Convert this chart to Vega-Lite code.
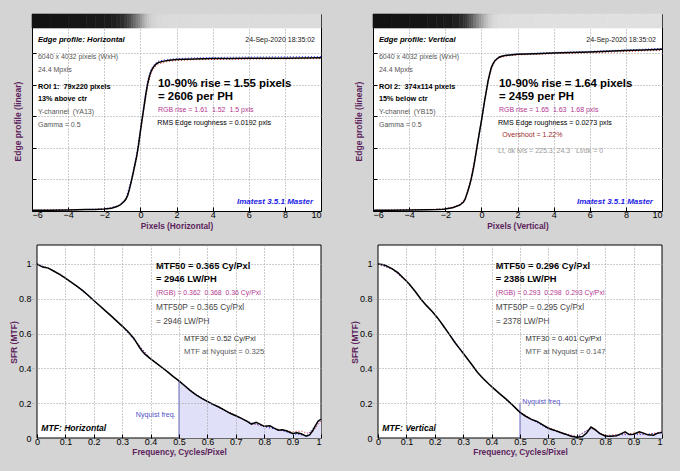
{
"$schema": "https://vega.github.io/schema/vega-lite/v6.json",
"background": "#d4d4d4",
"padding": {"left": 9, "top": 13, "right": 20, "bottom": 20},
"autosize": {"type": "pad"},
"columns": 2,
"spacing": {"row": 34, "column": 52},
"bounds": "flush",
"datasets": {
"tl_y": [{"x":-6,"y":0.004},{"x":-5,"y":0.005},{"x":-4,"y":0.007},{"x":-3,"y":0.009},{"x":-2.5,"y":0.01},{"x":-2,"y":0.012},{"x":-1.6,"y":0.018},{"x":-1.3,"y":0.028},{"x":-1.1,"y":0.04},{"x":-0.9,"y":0.06},{"x":-0.8,"y":0.076},{"x":-0.7,"y":0.1},{"x":-0.6,"y":0.14},{"x":-0.5,"y":0.19},{"x":-0.4,"y":0.24},{"x":-0.3,"y":0.295},{"x":-0.2,"y":0.35},{"x":-0.1,"y":0.42},{"x":0,"y":0.505},{"x":0.1,"y":0.585},{"x":0.2,"y":0.66},{"x":0.3,"y":0.74},{"x":0.4,"y":0.805},{"x":0.5,"y":0.855},{"x":0.6,"y":0.888},{"x":0.7,"y":0.91},{"x":0.85,"y":0.93},{"x":1,"y":0.942},{"x":1.3,"y":0.951},{"x":1.6,"y":0.957},{"x":2,"y":0.961},{"x":3,"y":0.965},{"x":4,"y":0.967},{"x":5,"y":0.968},{"x":6,"y":0.969},{"x":7,"y":0.97},{"x":8,"y":0.97},{"x":9,"y":0.971},{"x":10,"y":0.972}],
"tl_rb": [{"ch":"B","x":-6,"y":0.004},{"ch":"B","x":-2,"y":0.012},{"ch":"B","x":-1.2,"y":0.034},{"ch":"B","x":-0.8,"y":0.08},{"ch":"B","x":-0.5,"y":0.2},{"ch":"B","x":-0.2,"y":0.365},{"ch":"B","x":0,"y":0.52},{"ch":"B","x":0.2,"y":0.68},{"ch":"B","x":0.4,"y":0.825},{"ch":"B","x":0.6,"y":0.903},{"ch":"B","x":0.8,"y":0.935},{"ch":"B","x":1,"y":0.952},{"ch":"B","x":1.5,"y":0.962},{"ch":"B","x":2,"y":0.967},{"ch":"B","x":3,"y":0.972},{"ch":"B","x":5,"y":0.976},{"ch":"B","x":7,"y":0.978},{"ch":"B","x":10,"y":0.98},
{"ch":"R","x":-6,"y":0.004},{"ch":"R","x":-2,"y":0.011},{"ch":"R","x":-1.2,"y":0.03},{"ch":"R","x":-0.8,"y":0.07},{"ch":"R","x":-0.5,"y":0.182},{"ch":"R","x":-0.2,"y":0.34},{"ch":"R","x":0,"y":0.495},{"ch":"R","x":0.2,"y":0.65},{"ch":"R","x":0.4,"y":0.79},{"ch":"R","x":0.6,"y":0.878},{"ch":"R","x":0.8,"y":0.915},{"ch":"R","x":1,"y":0.932},{"ch":"R","x":1.5,"y":0.948},{"ch":"R","x":2,"y":0.955},{"ch":"R","x":3,"y":0.96},{"ch":"R","x":5,"y":0.963},{"ch":"R","x":7,"y":0.965},{"ch":"R","x":10,"y":0.967}],
"tr_y": [{"x":-6,"y":0.004},{"x":-5,"y":0.005},{"x":-4,"y":0.006},{"x":-3,"y":0.008},{"x":-2.5,"y":0.009},{"x":-2.1,"y":0.011},{"x":-1.6,"y":0.02},{"x":-1.2,"y":0.038},{"x":-1,"y":0.055},{"x":-0.9,"y":0.075},{"x":-0.75,"y":0.125},{"x":-0.65,"y":0.165},{"x":-0.55,"y":0.21},{"x":-0.45,"y":0.265},{"x":-0.37,"y":0.317},{"x":-0.28,"y":0.38},{"x":-0.19,"y":0.444},{"x":-0.1,"y":0.505},{"x":0,"y":0.571},{"x":0.09,"y":0.635},{"x":0.18,"y":0.7},{"x":0.28,"y":0.765},{"x":0.37,"y":0.825},{"x":0.46,"y":0.87},{"x":0.55,"y":0.91},{"x":0.65,"y":0.935},{"x":0.74,"y":0.952},{"x":0.87,"y":0.966},{"x":1,"y":0.977},{"x":1.3,"y":0.986},{"x":1.6,"y":0.99},{"x":2,"y":0.994},{"x":3,"y":0.998},{"x":4,"y":1.002},{"x":5,"y":1.005},{"x":6,"y":1.009},{"x":7,"y":1.013},{"x":8,"y":1.018},{"x":9,"y":1.022},{"x":10,"y":1.027}],
"tr_rb": [{"ch":"B","x":-6,"y":0.004},{"ch":"B","x":-2,"y":0.011},{"ch":"B","x":-1.2,"y":0.036},{"ch":"B","x":-0.9,"y":0.07},{"ch":"B","x":-0.6,"y":0.18},{"ch":"B","x":-0.3,"y":0.36},{"ch":"B","x":0,"y":0.56},{"ch":"B","x":0.2,"y":0.71},{"ch":"B","x":0.4,"y":0.84},{"ch":"B","x":0.6,"y":0.925},{"ch":"B","x":0.8,"y":0.962},{"ch":"B","x":1,"y":0.98},{"ch":"B","x":1.5,"y":0.992},{"ch":"B","x":2,"y":0.997},{"ch":"B","x":4,"y":1.006},{"ch":"B","x":6,"y":1.013},{"ch":"B","x":8,"y":1.022},{"ch":"B","x":10,"y":1.032},
{"ch":"R","x":-6,"y":0.004},{"ch":"R","x":-2,"y":0.012},{"ch":"R","x":-1.2,"y":0.04},{"ch":"R","x":-0.9,"y":0.08},{"ch":"R","x":-0.6,"y":0.19},{"ch":"R","x":-0.3,"y":0.375},{"ch":"R","x":0,"y":0.575},{"ch":"R","x":0.2,"y":0.715},{"ch":"R","x":0.4,"y":0.835},{"ch":"R","x":0.6,"y":0.918},{"ch":"R","x":0.8,"y":0.955},{"ch":"R","x":1,"y":0.973},{"ch":"R","x":1.5,"y":0.985},{"ch":"R","x":2,"y":0.99},{"ch":"R","x":4,"y":0.998},{"ch":"R","x":6,"y":1.004},{"ch":"R","x":8,"y":1.012},{"ch":"R","x":10,"y":1.02}],
"bl_y": [{"f":0,"m":1},{"f":0.01,"m":0.99},{"f":0.02,"m":0.982},{"f":0.03,"m":0.98},{"f":0.04,"m":0.976},{"f":0.06,"m":0.958},{"f":0.08,"m":0.94},{"f":0.1,"m":0.918},{"f":0.12,"m":0.896},{"f":0.14,"m":0.873},{"f":0.16,"m":0.848},{"f":0.18,"m":0.82},{"f":0.2,"m":0.79},{"f":0.22,"m":0.761},{"f":0.24,"m":0.732},{"f":0.26,"m":0.703},{"f":0.28,"m":0.673},{"f":0.3,"m":0.643},{"f":0.32,"m":0.612},{"f":0.34,"m":0.575},{"f":0.35,"m":0.55},{"f":0.36,"m":0.523},{"f":0.37,"m":0.5},{"f":0.38,"m":0.482},{"f":0.4,"m":0.455},{"f":0.42,"m":0.43},{"f":0.44,"m":0.405},{"f":0.46,"m":0.38},{"f":0.48,"m":0.353},{"f":0.5,"m":0.328},{"f":0.52,"m":0.3},{"f":0.54,"m":0.272},{"f":0.56,"m":0.248},{"f":0.58,"m":0.228},{"f":0.6,"m":0.21},{"f":0.62,"m":0.193},{"f":0.64,"m":0.178},{"f":0.66,"m":0.16},{"f":0.68,"m":0.142},{"f":0.7,"m":0.128},{"f":0.72,"m":0.113},{"f":0.74,"m":0.096},{"f":0.755,"m":0.08},{"f":0.772,"m":0.09},{"f":0.785,"m":0.08},{"f":0.8,"m":0.067},{"f":0.82,"m":0.07},{"f":0.835,"m":0.057},{"f":0.85,"m":0.045},{"f":0.865,"m":0.047},{"f":0.88,"m":0.04},{"f":0.9,"m":0.026},{"f":0.915,"m":0.03},{"f":0.93,"m":0.024},{"f":0.948,"m":0.011},{"f":0.96,"m":0.018},{"f":0.97,"m":0.04},{"f":0.98,"m":0.07},{"f":0.99,"m":0.098},{"f":1,"m":0.107}],
"bl_rb": [{"ch":"R","f":0,"m":1},{"ch":"R","f":0.05,"m":0.967},{"ch":"R","f":0.1,"m":0.917},{"ch":"R","f":0.15,"m":0.861},{"ch":"R","f":0.2,"m":0.79},{"ch":"R","f":0.25,"m":0.718},{"ch":"R","f":0.3,"m":0.643},{"ch":"R","f":0.35,"m":0.552},{"ch":"R","f":0.4,"m":0.455},{"ch":"R","f":0.45,"m":0.393},{"ch":"R","f":0.5,"m":0.326},{"ch":"R","f":0.55,"m":0.26},{"ch":"R","f":0.6,"m":0.21},{"ch":"R","f":0.65,"m":0.17},{"ch":"R","f":0.7,"m":0.13},{"ch":"R","f":0.75,"m":0.085},{"ch":"R","f":0.8,"m":0.07},{"ch":"R","f":0.85,"m":0.05},{"ch":"R","f":0.9,"m":0.035},{"ch":"R","f":0.93,"m":0.04},{"ch":"R","f":0.95,"m":0.028},{"ch":"R","f":0.97,"m":0.035},{"ch":"R","f":1,"m":0.1},
{"ch":"B","f":0,"m":1},{"ch":"B","f":0.05,"m":0.969},{"ch":"B","f":0.1,"m":0.919},{"ch":"B","f":0.15,"m":0.859},{"ch":"B","f":0.2,"m":0.788},{"ch":"B","f":0.25,"m":0.716},{"ch":"B","f":0.3,"m":0.641},{"ch":"B","f":0.35,"m":0.548},{"ch":"B","f":0.4,"m":0.454},{"ch":"B","f":0.45,"m":0.391},{"ch":"B","f":0.5,"m":0.33},{"ch":"B","f":0.55,"m":0.262},{"ch":"B","f":0.6,"m":0.208},{"ch":"B","f":0.65,"m":0.168},{"ch":"B","f":0.7,"m":0.127},{"ch":"B","f":0.75,"m":0.09},{"ch":"B","f":0.8,"m":0.064},{"ch":"B","f":0.85,"m":0.048},{"ch":"B","f":0.9,"m":0.024},{"ch":"B","f":0.95,"m":0.014},{"ch":"B","f":1,"m":0.11}],
"bl_nyq": [{"f":0.5,"m":0.328}],
"br_y": [{"f":0,"m":1},{"f":0.02,"m":0.995},{"f":0.035,"m":0.985},{"f":0.05,"m":0.972},{"f":0.07,"m":0.95},{"f":0.09,"m":0.918},{"f":0.11,"m":0.885},{"f":0.13,"m":0.845},{"f":0.15,"m":0.8},{"f":0.17,"m":0.762},{"f":0.19,"m":0.728},{"f":0.21,"m":0.69},{"f":0.23,"m":0.645},{"f":0.25,"m":0.598},{"f":0.27,"m":0.55},{"f":0.29,"m":0.508},{"f":0.31,"m":0.465},{"f":0.33,"m":0.422},{"f":0.35,"m":0.378},{"f":0.37,"m":0.342},{"f":0.39,"m":0.31},{"f":0.41,"m":0.281},{"f":0.43,"m":0.252},{"f":0.45,"m":0.225},{"f":0.47,"m":0.195},{"f":0.49,"m":0.163},{"f":0.5,"m":0.147},{"f":0.52,"m":0.125},{"f":0.54,"m":0.107},{"f":0.56,"m":0.095},{"f":0.58,"m":0.075},{"f":0.6,"m":0.056},{"f":0.62,"m":0.045},{"f":0.64,"m":0.033},{"f":0.66,"m":0.022},{"f":0.68,"m":0.01},{"f":0.7,"m":0.004},{"f":0.72,"m":0.008},{"f":0.735,"m":0.03},{"f":0.75,"m":0.063},{"f":0.765,"m":0.048},{"f":0.78,"m":0.026},{"f":0.8,"m":0.012},{"f":0.82,"m":0.01},{"f":0.84,"m":0.013},{"f":0.855,"m":0.024},{"f":0.87,"m":0.035},{"f":0.885,"m":0.02},{"f":0.9,"m":0.022},{"f":0.92,"m":0.036},{"f":0.935,"m":0.028},{"f":0.95,"m":0.018},{"f":0.97,"m":0.016},{"f":0.985,"m":0.028},{"f":1,"m":0.032}],
"br_rb": [{"ch":"R","f":0,"m":1},{"ch":"R","f":0.05,"m":0.97},{"ch":"R","f":0.1,"m":0.9},{"ch":"R","f":0.15,"m":0.8},{"ch":"R","f":0.2,"m":0.71},{"ch":"R","f":0.25,"m":0.595},{"ch":"R","f":0.3,"m":0.485},{"ch":"R","f":0.35,"m":0.38},{"ch":"R","f":0.4,"m":0.295},{"ch":"R","f":0.45,"m":0.228},{"ch":"R","f":0.5,"m":0.15},{"ch":"R","f":0.55,"m":0.1},{"ch":"R","f":0.6,"m":0.06},{"ch":"R","f":0.65,"m":0.03},{"ch":"R","f":0.7,"m":0.008},{"ch":"R","f":0.75,"m":0.055},{"ch":"R","f":0.8,"m":0.015},{"ch":"R","f":0.85,"m":0.02},{"ch":"R","f":0.9,"m":0.028},{"ch":"R","f":0.95,"m":0.02},{"ch":"R","f":1,"m":0.036},
{"ch":"B","f":0,"m":1},{"ch":"B","f":0.05,"m":0.972},{"ch":"B","f":0.1,"m":0.902},{"ch":"B","f":0.15,"m":0.802},{"ch":"B","f":0.2,"m":0.708},{"ch":"B","f":0.25,"m":0.6},{"ch":"B","f":0.3,"m":0.49},{"ch":"B","f":0.35,"m":0.376},{"ch":"B","f":0.4,"m":0.297},{"ch":"B","f":0.45,"m":0.222},{"ch":"B","f":0.5,"m":0.145},{"ch":"B","f":0.55,"m":0.098},{"ch":"B","f":0.6,"m":0.052},{"ch":"B","f":0.65,"m":0.026},{"ch":"B","f":0.7,"m":0.006},{"ch":"B","f":0.75,"m":0.06},{"ch":"B","f":0.8,"m":0.01},{"ch":"B","f":0.85,"m":0.018},{"ch":"B","f":0.9,"m":0.02},{"ch":"B","f":0.95,"m":0.022},{"ch":"B","f":1,"m":0.03}],
"br_nyq": [{"f":0.5,"m":0.201}]
},
"concat": [
{
"width": 289, "height": 197,
"layer": [
{"data": {"name": "tl_y"},
 "transform": [{"window": [{"op": "lead", "field": "x", "as": "xn"}], "sort": [{"field": "x", "order": "ascending"}]}, {"filter": "datum.xn != null"}],
 "mark": {"type": "rect", "strokeWidth": 0.6, "y": 0, "y2": 14},
 "encoding": {
  "x": {"field": "x", "type": "quantitative", "scale": {"domain": [-6, 10], "nice": false, "zero": false}, "axis": {"orient": "bottom", "values": [-6,-4,-2,0,2,4,6,8,10], "format": "~g", "tickCount": 30, "labelOverlap": false, "grid": true, "gridOpacity": {"condition": {"test": "datum.value == -6 || datum.value == 10", "value": 0}, "value": 1}, "tickSize": -4, "labelPadding": 3.5, "title": "Pixels (Horizontal)", "titlePadding": 2, "zindex": 0}},
  "x2": {"field": "xn"},
  "fill": {"field": "y", "type": "quantitative", "scale": {"type": "pow", "exponent": 0.5, "domain": [0, 1], "range": ["#000000", "#e0e0e0"], "clamp": true}, "legend": null},
  "stroke": {"field": "y", "type": "quantitative", "scale": {"type": "pow", "exponent": 0.5, "domain": [0, 1], "range": ["#000000", "#e0e0e0"], "clamp": true}, "legend": null}
 }},
 {"data": {"name": "tl_rb"}, "mark": {"type": "line", "strokeWidth": 1, "strokeDash": [1, 2]},
  "encoding": {
   "x": {"field": "x", "type": "quantitative", "scale": {"domain": [-6, 10], "nice": false, "zero": false}, "axis": {"orient": "bottom", "values": [-6,-4,-2,0,2,4,6,8,10], "format": "~g", "tickCount": 30, "labelOverlap": false, "grid": true, "gridOpacity": {"condition": {"test": "datum.value == -6 || datum.value == 10", "value": 0}, "value": 1}, "tickSize": -4, "labelPadding": 3.5, "title": "Pixels (Horizontal)", "titlePadding": 2, "zindex": 0}},
   "y": {"field": "y", "type": "quantitative", "scale": {"domain": [0, 1.25], "nice": false, "zero": false}, "axis": {"orient": "left", "values": [0.2,0.4,0.6,0.8,1], "tickCount": 30, "labelOverlap": false, "grid": true, "tickSize": -4, "labels": false, "title": "Edge profile (linear)", "titleFontSize": 8.5, "titleX": -15, "titleY": 107, "titleBaseline": "middle", "titleAlign": "center", "zindex": 0}},
   "color": {"field": "ch", "type": "nominal", "scale": {"domain": ["R", "B"], "range": ["#e02020", "#2a2aff"]}, "legend": null}
  }},
 {"data": {"name": "tl_y"}, "mark": {"type": "line", "color": "#000000", "strokeWidth": 1.5}, "encoding": {"x": {"field": "x", "type": "quantitative"}, "y": {"field": "y", "type": "quantitative"}}},
 {"data": {"values": [{"x": -5.67, "y": 1.085, "t": "Edge profile: Horizontal"}]}, "mark": {"type": "text", "align": "left", "baseline": "middle", "fontSize": 7.7, "fontWeight": "bold", "fontStyle": "italic", "color": "#000000"}, "encoding": {"x": {"field": "x", "type": "quantitative"}, "y": {"field": "y", "type": "quantitative"}, "text": {"field": "t", "type": "nominal"}}},
 {"data": {"values": [{"x": 9.668, "y": 1.085, "t": "24-Sep-2020 18:35:02"}]}, "mark": {"type": "text", "align": "right", "baseline": "middle", "fontSize": 7, "color": "#202020"}, "encoding": {"x": {"field": "x", "type": "quantitative"}, "y": {"field": "y", "type": "quantitative"}, "text": {"field": "t", "type": "nominal"}}},
 {"data": {"values": [{"x": -5.67, "y": 0.977, "t": "6040 x 4032 pixels (WxH)"}, {"x": -5.67, "y": 0.895, "t": "24.4 Mpxls"}, {"x": -5.67, "y": 0.628, "t": "Y-channel \u00a0(YA13)"}, {"x": -5.67, "y": 0.546, "t": "Gamma = 0.5"}]}, "mark": {"type": "text", "align": "left", "baseline": "middle", "fontSize": 7, "color": "#555555"}, "encoding": {"x": {"field": "x", "type": "quantitative"}, "y": {"field": "y", "type": "quantitative"}, "text": {"field": "t", "type": "nominal"}}},
 {"data": {"values": [{"x": -5.67, "y": 0.789, "t": "ROI 1: \u00a079x220 pixels"}, {"x": -5.67, "y": 0.713, "t": "13% above ctr"}]}, "mark": {"type": "text", "align": "left", "baseline": "middle", "fontSize": 7.3, "fontWeight": "bold", "color": "#000000"}, "encoding": {"x": {"field": "x", "type": "quantitative"}, "y": {"field": "y", "type": "quantitative"}, "text": {"field": "t", "type": "nominal"}}},
 {"data": {"values": [{"x": 0.976, "y": 0.808, "t": "10-90% rise = 1.55 pixels"}, {"x": 0.976, "y": 0.725, "t": "= 2606 per PH"}]}, "mark": {"type": "text", "align": "left", "baseline": "middle", "fontSize": 11.4, "fontWeight": "bold", "color": "#000000"}, "encoding": {"x": {"field": "x", "type": "quantitative"}, "y": {"field": "y", "type": "quantitative"}, "text": {"field": "t", "type": "nominal"}}},
 {"data": {"values": [{"x": 0.976, "y": 0.643, "t": "RGB rise = 1.61 \u00a01.52 \u00a01.5 pxls"}]}, "mark": {"type": "text", "align": "left", "baseline": "middle", "fontSize": 7, "color": "#b4368f"}, "encoding": {"x": {"field": "x", "type": "quantitative"}, "y": {"field": "y", "type": "quantitative"}, "text": {"field": "t", "type": "nominal"}}},
 {"data": {"values": [{"x": 0.94, "y": 0.56, "t": "RMS Edge roughness = 0.0192 pxls"}]}, "mark": {"type": "text", "align": "left", "baseline": "middle", "fontSize": 7.1, "color": "#000000"}, "encoding": {"x": {"field": "x", "type": "quantitative"}, "y": {"field": "y", "type": "quantitative"}, "text": {"field": "t", "type": "nominal"}}},
 {"data": {"values": [{"x": 9.557, "y": 0.057, "t": "Imatest 3.5.1 Master"}]}, "mark": {"type": "text", "align": "right", "baseline": "middle", "fontSize": 8, "fontWeight": "bold", "fontStyle": "italic", "color": "#1a1ae6"}, "encoding": {"x": {"field": "x", "type": "quantitative"}, "y": {"field": "y", "type": "quantitative"}, "text": {"field": "t", "type": "nominal"}}}
]
},
{
"width": 289, "height": 197,
"layer": [
{"data": {"name": "tr_y"},
 "transform": [{"window": [{"op": "lead", "field": "x", "as": "xn"}], "sort": [{"field": "x", "order": "ascending"}]}, {"filter": "datum.xn != null"}],
 "mark": {"type": "rect", "strokeWidth": 0.6, "y": 0, "y2": 14},
 "encoding": {
  "x": {"field": "x", "type": "quantitative", "scale": {"domain": [-6, 10], "nice": false, "zero": false}, "axis": {"orient": "bottom", "values": [-6,-4,-2,0,2,4,6,8,10], "format": "~g", "tickCount": 30, "labelOverlap": false, "grid": true, "gridOpacity": {"condition": {"test": "datum.value == -6 || datum.value == 10", "value": 0}, "value": 1}, "tickSize": -4, "labelPadding": 3.5, "title": "Pixels (Vertical)", "titlePadding": 2, "zindex": 0}},
  "x2": {"field": "xn"},
  "fill": {"field": "y", "type": "quantitative", "scale": {"type": "pow", "exponent": 0.5, "domain": [0, 1], "range": ["#000000", "#e0e0e0"], "clamp": true}, "legend": null},
  "stroke": {"field": "y", "type": "quantitative", "scale": {"type": "pow", "exponent": 0.5, "domain": [0, 1], "range": ["#000000", "#e0e0e0"], "clamp": true}, "legend": null}
 }},
 {"data": {"name": "tr_rb"}, "mark": {"type": "line", "strokeWidth": 1, "strokeDash": [1, 2]},
  "encoding": {
   "x": {"field": "x", "type": "quantitative", "scale": {"domain": [-6, 10], "nice": false, "zero": false}, "axis": {"orient": "bottom", "values": [-6,-4,-2,0,2,4,6,8,10], "format": "~g", "tickCount": 30, "labelOverlap": false, "grid": true, "gridOpacity": {"condition": {"test": "datum.value == -6 || datum.value == 10", "value": 0}, "value": 1}, "tickSize": -4, "labelPadding": 3.5, "title": "Pixels (Vertical)", "titlePadding": 2, "zindex": 0}},
   "y": {"field": "y", "type": "quantitative", "scale": {"domain": [0, 1.25], "nice": false, "zero": false}, "axis": {"orient": "left", "values": [0.2,0.4,0.6,0.8,1], "tickCount": 30, "labelOverlap": false, "grid": true, "tickSize": -4, "labels": false, "title": "Edge profile (linear)", "titleFontSize": 8.5, "titleX": -15, "titleY": 107, "titleBaseline": "middle", "titleAlign": "center", "zindex": 0}},
   "color": {"field": "ch", "type": "nominal", "scale": {"domain": ["R", "B"], "range": ["#e02020", "#2a2aff"]}, "legend": null}
  }},
 {"data": {"name": "tr_y"}, "mark": {"type": "line", "color": "#000000", "strokeWidth": 1.5}, "encoding": {"x": {"field": "x", "type": "quantitative"}, "y": {"field": "y", "type": "quantitative"}}},
 {"data": {"values": [{"x": -5.67, "y": 1.085, "t": "Edge profile: Vertical"}]}, "mark": {"type": "text", "align": "left", "baseline": "middle", "fontSize": 7.7, "fontWeight": "bold", "fontStyle": "italic", "color": "#000000"}, "encoding": {"x": {"field": "x", "type": "quantitative"}, "y": {"field": "y", "type": "quantitative"}, "text": {"field": "t", "type": "nominal"}}},
 {"data": {"values": [{"x": 9.668, "y": 1.085, "t": "24-Sep-2020 18:35:02"}]}, "mark": {"type": "text", "align": "right", "baseline": "middle", "fontSize": 7, "color": "#202020"}, "encoding": {"x": {"field": "x", "type": "quantitative"}, "y": {"field": "y", "type": "quantitative"}, "text": {"field": "t", "type": "nominal"}}},
 {"data": {"values": [{"x": -5.67, "y": 0.977, "t": "6040 x 4032 pixels (WxH)"}, {"x": -5.67, "y": 0.895, "t": "24.4 Mpxls"}, {"x": -5.67, "y": 0.628, "t": "Y-channel \u00a0(YB15)"}, {"x": -5.67, "y": 0.546, "t": "Gamma = 0.5"}]}, "mark": {"type": "text", "align": "left", "baseline": "middle", "fontSize": 7, "color": "#555555"}, "encoding": {"x": {"field": "x", "type": "quantitative"}, "y": {"field": "y", "type": "quantitative"}, "text": {"field": "t", "type": "nominal"}}},
 {"data": {"values": [{"x": -5.67, "y": 0.789, "t": "ROI 2: \u00a0374x114 pixels"}, {"x": -5.67, "y": 0.713, "t": "15% below ctr"}]}, "mark": {"type": "text", "align": "left", "baseline": "middle", "fontSize": 7.3, "fontWeight": "bold", "color": "#000000"}, "encoding": {"x": {"field": "x", "type": "quantitative"}, "y": {"field": "y", "type": "quantitative"}, "text": {"field": "t", "type": "nominal"}}},
 {"data": {"values": [{"x": 0.976, "y": 0.808, "t": "10-90% rise = 1.64 pixels"}, {"x": 0.976, "y": 0.725, "t": "= 2459 per PH"}]}, "mark": {"type": "text", "align": "left", "baseline": "middle", "fontSize": 11.4, "fontWeight": "bold", "color": "#000000"}, "encoding": {"x": {"field": "x", "type": "quantitative"}, "y": {"field": "y", "type": "quantitative"}, "text": {"field": "t", "type": "nominal"}}},
 {"data": {"values": [{"x": 0.976, "y": 0.643, "t": "RGB rise = 1.65 \u00a01.63 \u00a01.68 pxls"}]}, "mark": {"type": "text", "align": "left", "baseline": "middle", "fontSize": 7, "color": "#b4368f"}, "encoding": {"x": {"field": "x", "type": "quantitative"}, "y": {"field": "y", "type": "quantitative"}, "text": {"field": "t", "type": "nominal"}}},
 {"data": {"values": [{"x": 0.92, "y": 0.56, "t": "RMS Edge roughness = 0.0273 pxls"}]}, "mark": {"type": "text", "align": "left", "baseline": "middle", "fontSize": 7.1, "color": "#000000"}, "encoding": {"x": {"field": "x", "type": "quantitative"}, "y": {"field": "y", "type": "quantitative"}, "text": {"field": "t", "type": "nominal"}}},
 {"data": {"values": [{"x": 1.16, "y": 0.48, "t": "Overshoot = 1.22%"}]}, "mark": {"type": "text", "align": "left", "baseline": "middle", "fontSize": 7, "color": "#9c2a2a"}, "encoding": {"x": {"field": "x", "type": "quantitative"}, "y": {"field": "y", "type": "quantitative"}, "text": {"field": "t", "type": "nominal"}}},
 {"data": {"values": [{"x": 0.92, "y": 0.381, "t": "Lt, dk lvls = 225.3, 24.3 \u00a0 Lt/dk = 0"}]}, "mark": {"type": "text", "align": "left", "baseline": "middle", "fontSize": 7, "color": "#9a9a9a"}, "encoding": {"x": {"field": "x", "type": "quantitative"}, "y": {"field": "y", "type": "quantitative"}, "text": {"field": "t", "type": "nominal"}}},
 {"data": {"values": [{"x": 9.5, "y": 0.057, "t": "Imatest 3.5.1 Master"}]}, "mark": {"type": "text", "align": "right", "baseline": "middle", "fontSize": 8, "fontWeight": "bold", "fontStyle": "italic", "color": "#1a1ae6"}, "encoding": {"x": {"field": "x", "type": "quantitative"}, "y": {"field": "y", "type": "quantitative"}, "text": {"field": "t", "type": "nominal"}}}
]
},
{
"width": 289, "height": 193,
"view": {"fill": null, "stroke": null},
"layer": [
 {"data": {"name": "bl_y"}, "transform": [{"aggregate": [{"op": "min", "field": "f", "as": "f0"}, {"op": "max", "field": "f", "as": "f1"}]}],
  "mark": {"type": "rect", "fill": "#ffffff", "stroke": "#000000", "strokeWidth": 1, "y": 0, "y2": 193},
  "encoding": {
   "x": {"field": "f0", "type": "quantitative", "scale": {"domain": [-0.017606, 1], "nice": false, "zero": false}, "axis": {"orient": "bottom", "values": [0,0.1,0.2,0.3,0.4,0.5,0.6,0.7,0.8,0.9,1], "tickCount": 30, "labelOverlap": false, "format": "~g", "grid": true, "gridOpacity": {"condition": {"test": "datum.value == 0 || datum.value == 1", "value": 0}, "value": 1}, "tickSize": -4, "labelPadding": 3, "title": "Frequency, Cycles/Pixel", "titlePadding": 1.5, "titleX": 147, "zindex": 1}},
   "x2": {"field": "f1"}
  }},
 {"data": {"name": "bl_y"}, "transform": [{"filter": "datum.f >= 0.5"}], "mark": {"type": "area", "color": "#e0e0f8"},
  "encoding": {
   "x": {"field": "f", "type": "quantitative", "axis": {"orient": "bottom", "values": [0,0.1,0.2,0.3,0.4,0.5,0.6,0.7,0.8,0.9,1], "tickCount": 30, "labelOverlap": false, "format": "~g", "grid": true, "gridOpacity": {"condition": {"test": "datum.value == 0 || datum.value == 1", "value": 0}, "value": 1}, "tickSize": -4, "labelPadding": 3, "title": "Frequency, Cycles/Pixel", "titlePadding": 1.5, "titleX": 147, "zindex": 1}},
   "y": {"field": "m", "type": "quantitative", "scale": {"domain": [0, 1.109], "nice": false, "zero": false}, "axis": {"orient": "left", "values": [0,0.2,0.4,0.6,0.8,1], "tickCount": 30, "labelOverlap": false, "format": "~g", "grid": true, "gridOpacity": {"condition": {"test": "datum.value == 0", "value": 0}, "value": 1}, "ticks": false, "labelPadding": 1, "title": "SFR (MTF)", "titleFontSize": 8.5, "titleX": -19, "titleY": 97, "titleBaseline": "middle", "titleAlign": "center", "zindex": 1}}
  }},
 {"data": {"name": "bl_nyq"}, "mark": {"type": "rule", "color": "#6464d0", "strokeWidth": 1}, "encoding": {"x": {"field": "f", "type": "quantitative"}, "y": {"field": "m", "type": "quantitative"}, "y2": {"datum": 0}}},
 {"data": {"name": "bl_rb"}, "mark": {"type": "line", "strokeWidth": 1, "strokeDash": [1, 2]}, "encoding": {"x": {"field": "f", "type": "quantitative"}, "y": {"field": "m", "type": "quantitative"}, "color": {"field": "ch", "type": "nominal", "scale": {"domain": ["R", "B"], "range": ["#e02020", "#2a2aff"]}, "legend": null}}},
 {"data": {"name": "bl_y"}, "mark": {"type": "line", "color": "#000000", "strokeWidth": 1.5}, "encoding": {"x": {"field": "f", "type": "quantitative"}, "y": {"field": "m", "type": "quantitative"}}},
 {"data": {"values": [{"x": 0.419, "y": 0.989, "t": "MTF50 = 0.365 Cy/Pxl"}, {"x": 0.419, "y": 0.912, "t": "= 2946 LW/PH"}]}, "mark": {"type": "text", "align": "left", "baseline": "middle", "fontSize": 9.3, "fontWeight": "bold", "color": "#000000"}, "encoding": {"x": {"field": "x", "type": "quantitative"}, "y": {"field": "y", "type": "quantitative"}, "text": {"field": "t", "type": "nominal"}}},
 {"data": {"values": [{"x": 0.419, "y": 0.835, "t": "(RGB) = 0.362 \u00a00.368 \u00a00.36 Cy/Pxl"}]}, "mark": {"type": "text", "align": "left", "baseline": "middle", "fontSize": 6.9, "color": "#b4368f"}, "encoding": {"x": {"field": "x", "type": "quantitative"}, "y": {"field": "y", "type": "quantitative"}, "text": {"field": "t", "type": "nominal"}}},
 {"data": {"values": [{"x": 0.419, "y": 0.745, "t": "MTF50P = 0.365 Cy/Pxl"}, {"x": 0.419, "y": 0.667, "t": "= 2946 LW/PH"}]}, "mark": {"type": "text", "align": "left", "baseline": "middle", "fontSize": 8.3, "color": "#454545"}, "encoding": {"x": {"field": "x", "type": "quantitative"}, "y": {"field": "y", "type": "quantitative"}, "text": {"field": "t", "type": "nominal"}}},
 {"data": {"values": [{"x": 0.518, "y": 0.571, "t": "MTF30 = 0.52 Cy/Pxl"}]}, "mark": {"type": "text", "align": "left", "baseline": "middle", "fontSize": 7.6, "color": "#2a2a2a"}, "encoding": {"x": {"field": "x", "type": "quantitative"}, "y": {"field": "y", "type": "quantitative"}, "text": {"field": "t", "type": "nominal"}}},
 {"data": {"values": [{"x": 0.518, "y": 0.494, "t": "MTF at Nyquist = 0.325"}]}, "mark": {"type": "text", "align": "left", "baseline": "middle", "fontSize": 7.7, "color": "#5a5a5a"}, "encoding": {"x": {"field": "x", "type": "quantitative"}, "y": {"field": "y", "type": "quantitative"}, "text": {"field": "t", "type": "nominal"}}},
 {"data": {"values": [{"x": 0.015, "y": 0.059, "t": "MTF: Horizontal"}]}, "mark": {"type": "text", "align": "left", "baseline": "middle", "fontSize": 8.6, "fontWeight": "bold", "fontStyle": "italic", "color": "#000000"}, "encoding": {"x": {"field": "x", "type": "quantitative"}, "y": {"field": "y", "type": "quantitative"}, "text": {"field": "t", "type": "nominal"}}},
 {"data": {"values": [{"x": 0.488, "y": 0.13, "t": "Nyquist freq."}]}, "mark": {"type": "text", "align": "right", "baseline": "middle", "fontSize": 7.1, "color": "#5050c8"}, "encoding": {"x": {"field": "x", "type": "quantitative"}, "y": {"field": "y", "type": "quantitative"}, "text": {"field": "t", "type": "nominal"}}}
]
},
{
"width": 289, "height": 193,
"view": {"fill": null, "stroke": null},
"layer": [
 {"data": {"name": "br_y"}, "transform": [{"aggregate": [{"op": "min", "field": "f", "as": "f0"}, {"op": "max", "field": "f", "as": "f1"}]}],
  "mark": {"type": "rect", "fill": "#ffffff", "stroke": "#000000", "strokeWidth": 1, "y": 0, "y2": 193},
  "encoding": {
   "x": {"field": "f0", "type": "quantitative", "scale": {"domain": [-0.017606, 1], "nice": false, "zero": false}, "axis": {"orient": "bottom", "values": [0,0.1,0.2,0.3,0.4,0.5,0.6,0.7,0.8,0.9,1], "tickCount": 30, "labelOverlap": false, "format": "~g", "grid": true, "gridOpacity": {"condition": {"test": "datum.value == 0 || datum.value == 1", "value": 0}, "value": 1}, "tickSize": -4, "labelPadding": 3, "title": "Frequency, Cycles/Pixel", "titlePadding": 1.5, "titleX": 147, "zindex": 1}},
   "x2": {"field": "f1"}
  }},
 {"data": {"name": "br_y"}, "transform": [{"filter": "datum.f >= 0.5"}], "mark": {"type": "area", "color": "#e0e0f8"},
  "encoding": {
   "x": {"field": "f", "type": "quantitative", "axis": {"orient": "bottom", "values": [0,0.1,0.2,0.3,0.4,0.5,0.6,0.7,0.8,0.9,1], "tickCount": 30, "labelOverlap": false, "format": "~g", "grid": true, "gridOpacity": {"condition": {"test": "datum.value == 0 || datum.value == 1", "value": 0}, "value": 1}, "tickSize": -4, "labelPadding": 3, "title": "Frequency, Cycles/Pixel", "titlePadding": 1.5, "titleX": 147, "zindex": 1}},
   "y": {"field": "m", "type": "quantitative", "scale": {"domain": [0, 1.109], "nice": false, "zero": false}, "axis": {"orient": "left", "values": [0,0.2,0.4,0.6,0.8,1], "tickCount": 30, "labelOverlap": false, "format": "~g", "grid": true, "gridOpacity": {"condition": {"test": "datum.value == 0", "value": 0}, "value": 1}, "ticks": false, "labelPadding": 1, "title": "SFR (MTF)", "titleFontSize": 8.5, "titleX": -19, "titleY": 97, "titleBaseline": "middle", "titleAlign": "center", "zindex": 1}}
  }},
 {"data": {"name": "br_nyq"}, "mark": {"type": "rule", "color": "#6464d0", "strokeWidth": 1}, "encoding": {"x": {"field": "f", "type": "quantitative"}, "y": {"field": "m", "type": "quantitative"}, "y2": {"datum": 0}}},
 {"data": {"name": "br_rb"}, "mark": {"type": "line", "strokeWidth": 1, "strokeDash": [1, 2]}, "encoding": {"x": {"field": "f", "type": "quantitative"}, "y": {"field": "m", "type": "quantitative"}, "color": {"field": "ch", "type": "nominal", "scale": {"domain": ["R", "B"], "range": ["#e02020", "#2a2aff"]}, "legend": null}}},
 {"data": {"name": "br_y"}, "mark": {"type": "line", "color": "#000000", "strokeWidth": 1.5}, "encoding": {"x": {"field": "f", "type": "quantitative"}, "y": {"field": "m", "type": "quantitative"}}},
 {"data": {"values": [{"x": 0.415, "y": 0.989, "t": "MTF50 = 0.296 Cy/Pxl"}, {"x": 0.415, "y": 0.912, "t": "= 2386 LW/PH"}]}, "mark": {"type": "text", "align": "left", "baseline": "middle", "fontSize": 9.3, "fontWeight": "bold", "color": "#000000"}, "encoding": {"x": {"field": "x", "type": "quantitative"}, "y": {"field": "y", "type": "quantitative"}, "text": {"field": "t", "type": "nominal"}}},
 {"data": {"values": [{"x": 0.415, "y": 0.835, "t": "(RGB) = 0.293 \u00a00.298 \u00a00.293 Cy/Pxl"}]}, "mark": {"type": "text", "align": "left", "baseline": "middle", "fontSize": 6.9, "color": "#b4368f"}, "encoding": {"x": {"field": "x", "type": "quantitative"}, "y": {"field": "y", "type": "quantitative"}, "text": {"field": "t", "type": "nominal"}}},
 {"data": {"values": [{"x": 0.415, "y": 0.745, "t": "MTF50P = 0.295 Cy/Pxl"}, {"x": 0.415, "y": 0.667, "t": "= 2378 LW/PH"}]}, "mark": {"type": "text", "align": "left", "baseline": "middle", "fontSize": 8.3, "color": "#454545"}, "encoding": {"x": {"field": "x", "type": "quantitative"}, "y": {"field": "y", "type": "quantitative"}, "text": {"field": "t", "type": "nominal"}}},
 {"data": {"values": [{"x": 0.519, "y": 0.571, "t": "MTF30 = 0.401 Cy/Pxl"}]}, "mark": {"type": "text", "align": "left", "baseline": "middle", "fontSize": 7.6, "color": "#2a2a2a"}, "encoding": {"x": {"field": "x", "type": "quantitative"}, "y": {"field": "y", "type": "quantitative"}, "text": {"field": "t", "type": "nominal"}}},
 {"data": {"values": [{"x": 0.519, "y": 0.494, "t": "MTF at Nyquist = 0.147"}]}, "mark": {"type": "text", "align": "left", "baseline": "middle", "fontSize": 7.7, "color": "#5a5a5a"}, "encoding": {"x": {"field": "x", "type": "quantitative"}, "y": {"field": "y", "type": "quantitative"}, "text": {"field": "t", "type": "nominal"}}},
 {"data": {"values": [{"x": 0.015, "y": 0.059, "t": "MTF: Vertical"}]}, "mark": {"type": "text", "align": "left", "baseline": "middle", "fontSize": 8.6, "fontWeight": "bold", "fontStyle": "italic", "color": "#000000"}, "encoding": {"x": {"field": "x", "type": "quantitative"}, "y": {"field": "y", "type": "quantitative"}, "text": {"field": "t", "type": "nominal"}}},
 {"data": {"values": [{"x": 0.508, "y": 0.209, "t": "Nyquist freq."}]}, "mark": {"type": "text", "align": "left", "baseline": "middle", "fontSize": 7.1, "color": "#5050c8"}, "encoding": {"x": {"field": "x", "type": "quantitative"}, "y": {"field": "y", "type": "quantitative"}, "text": {"field": "t", "type": "nominal"}}}
]
}
],
"config": {
 "font": "Liberation Sans",
 "view": {"fill": "#ffffff", "stroke": "#000000", "strokeWidth": 1},
 "axis": {"domain": false, "labelOverlap": false, "tickCount": 30, "labelFont": "Liberation Sans", "labelFontSize": 9, "labelColor": "#000000", "tickColor": "#000000", "tickWidth": 1, "titleFont": "Liberation Sans", "titleFontSize": 8.3, "titleFontWeight": "bold", "titleColor": "#5c1f5c", "gridColor": "#9a9a9a", "gridDash": [1, 2], "gridWidth": 1}
}
}
